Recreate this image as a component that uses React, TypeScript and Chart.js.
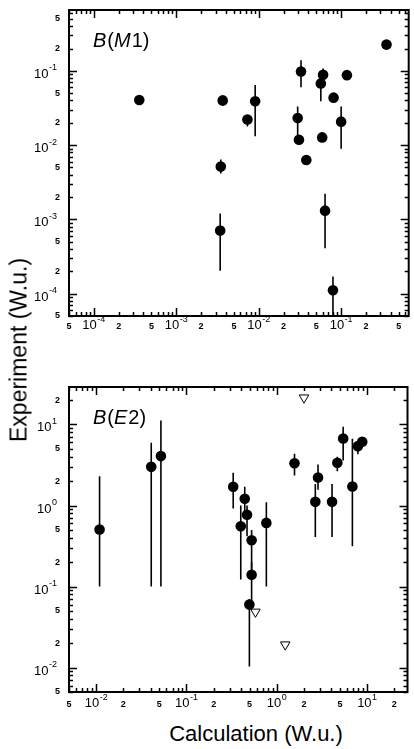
import React, { useEffect, useRef } from "react";
import { Chart, registerables } from "chart.js";

Chart.register(...registerables);

const FONT = '"Liberation Sans", Arial, Helvetica, sans-serif';

// ---- B(M1) panel data ----
const m1Calc = [3.56e-4, 3.66e-3, 7.3e-3, 9.06e-3, 0.0326, 0.0604, 0.0567, 0.1175, 0.081, 0.0297, 0.0308, 0.0589, 0.1, 0.0378, 0.355, 3.47e-3, 3.41e-3, 0.0638, 0.0796];
const m1Exp = [0.0406, 0.040, 0.0221, 0.0389, 0.098, 0.0884, 0.0678, 0.0876, 0.0436, 0.0231, 0.0118, 0.0127, 0.0207, 0.0063, 0.2256, 5.14e-3, 7.06e-4, 1.31e-3, 1.11e-4];
const m1Low = [0.0406, 0.034, 0.0178, 0.0132, 0.060, 0.084, 0.039, 0.0876, 0.0436, 0.0135, 0.0102, 0.0127, 0.00895, 0.0063, 0.2256, 4.14e-3, 2.03e-4, 4.09e-4, 4e-5];
const m1High = [0.0406, 0.042, 0.0235, 0.0644, 0.139, 0.1076, 0.072, 0.0876, 0.0436, 0.033, 0.0125, 0.0127, 0.033, 0.0063, 0.2256, 6.4e-3, 1.2e-3, 2.21e-3, 1.7e-4];

// ---- B(E2) panel data ----
const e2Calc = [0.0109, 0.0407, 0.0521, 0.329, 0.399, 0.4415, 0.468, 0.526, 0.526, 0.497, 0.766, 1.57, 2.67, 2.86, 4.09, 4.68, 5.43, 6.87, 7.9, 8.83];
const e2Exp = [0.506, 3.0, 4.07, 1.70, 0.556, 1.21, 0.768, 0.373, 0.14, 0.06, 0.61, 3.33, 1.11, 2.22, 1.11, 3.36, 6.72, 1.72, 5.4, 6.11];
const e2Low = [0.1, 0.1, 0.1, 0.92, 0.122, 0.85, 0.418, 0.14, 0.06, 0.0103, 0.1, 2.35, 0.41, 1.57, 0.41, 2.65, 3.6, 0.315, 4.3, 5.6];
const e2High = [2.3, 5.95, 11.2, 2.54, 1.0, 1.70, 1.0, 0.5, 0.2, 0.07, 1.1, 4.35, 1.84, 3.2, 1.84, 4.0, 9.36, 6.66, 5.8, 6.6];
// upper limits (open triangles)
const e2LimCalc = [0.58, 1.24, 2.0];
const e2LimExp = [0.0487, 0.0192, 21.4];

// ---- axes ----
const labelMantissas = [1, 2, 5];
const m1Range = { xMin: 5e-5, xMax: 0.66, yMin: 5e-5, yMax: 0.66 };
const e2Range = { xMin: 5e-3, xMax: 28, yMin: 5e-3, yMax: 29 };

type PanelCfg = {
  calc: number[];
  exp: number[];
  low: number[];
  high: number[];
  limCalc: number[];
  limExp: number[];
  range: { xMin: number; xMax: number; yMin: number; yMax: number };
  height: number;
  padding: { left: number; right: number; top: number; bottom: number };
  xLabelGap: number;
  name: [string, string];
};

function logTicks(min: number, max: number) {
  const out: { v: number; m: number; e: number }[] = [];
  const d0 = Math.floor(Math.log10(min));
  const d1 = Math.floor(Math.log10(max));
  for (let e = d0; e <= d1; e++) {
    for (let m = 1; m <= 9; m++) {
      const v = m * Math.pow(10, e);
      if (v >= min * 0.999 && v <= max * 1.001) out.push({ v, m, e });
    }
  }
  return out;
}

function drawPow(ctx: CanvasRenderingContext2D, e: number, x: number, y: number, align: "center" | "right") {
  const es = e < 0 ? "-" + Math.abs(e) : String(e);
  ctx.font = `13px ${FONT}`;
  const w1 = ctx.measureText("10").width;
  ctx.font = `9px ${FONT}`;
  const w2 = ctx.measureText(es).width;
  const total = w1 + w2 + 0.5;
  const sx = align === "center" ? x - total / 2 : x - total;
  ctx.textAlign = "left";
  ctx.textBaseline = "alphabetic";
  ctx.font = `13px ${FONT}`;
  ctx.fillText("10", sx, y);
  ctx.font = `9px ${FONT}`;
  ctx.fillText(es, sx + w1 + 0.5, y - 7.5);
}

function makePlugin(cfg: PanelCfg) {
  return {
    id: "frame",
    beforeDatasetsDraw(chart: any) {
      const ctx: CanvasRenderingContext2D = chart.ctx;
      const a = chart.chartArea;
      const xs = chart.scales.x;
      const ys = chart.scales.y;
      ctx.save();
      ctx.beginPath();
      ctx.rect(a.left, a.top, a.right - a.left, a.bottom - a.top);
      ctx.clip();
      ctx.strokeStyle = "#000";
      ctx.lineWidth = 1.6;
      for (let i = 0; i < cfg.calc.length; i++) {
        if (cfg.low[i] === cfg.high[i]) continue;
        const x = xs.getPixelForValue(cfg.calc[i]);
        ctx.beginPath();
        ctx.moveTo(x, ys.getPixelForValue(cfg.high[i]));
        ctx.lineTo(x, ys.getPixelForValue(cfg.low[i]));
        ctx.stroke();
      }
      ctx.restore();
    },
    afterDatasetsDraw(chart: any) {
      const ctx: CanvasRenderingContext2D = chart.ctx;
      const a = chart.chartArea;
      const xs = chart.scales.x;
      const ys = chart.scales.y;
      const r = cfg.range;
      ctx.save();
      ctx.strokeStyle = "#000";
      ctx.fillStyle = "#000";
      // ticks
      ctx.lineWidth = 1.5;
      const xt = logTicks(r.xMin, r.xMax);
      const yt = logTicks(r.yMin, r.yMax);
      for (const t of xt) {
        const x = Math.round(xs.getPixelForValue(t.v)) + 0.5;
        const len = t.m === 1 ? 8 : 4;
        ctx.beginPath();
        ctx.moveTo(x, a.bottom);
        ctx.lineTo(x, a.bottom - len);
        ctx.moveTo(x, a.top);
        ctx.lineTo(x, a.top + len);
        ctx.stroke();
      }
      for (const t of yt) {
        const y = Math.round(ys.getPixelForValue(t.v)) + 0.5;
        const len = t.m === 1 ? 8 : 4;
        ctx.beginPath();
        ctx.moveTo(a.left, y);
        ctx.lineTo(a.left + len, y);
        ctx.moveTo(a.right, y);
        ctx.lineTo(a.right - len, y);
        ctx.stroke();
      }
      // frame
      ctx.lineWidth = 2;
      ctx.strokeRect(a.left, a.top, a.right - a.left, a.bottom - a.top);
      // x labels
      const xb = a.bottom + cfg.xLabelGap;
      for (const t of xt) {
        if (!labelMantissas.includes(t.m)) continue;
        const x = xs.getPixelForValue(t.v);
        if (t.m === 1) {
          drawPow(ctx, t.e, x, xb, "center");
        } else {
          ctx.font = `bold 9px ${FONT}`;
          ctx.textAlign = "center";
          ctx.textBaseline = "alphabetic";
          ctx.fillText(String(t.m), x, xb);
        }
      }
      // y labels
      for (const t of yt) {
        if (!labelMantissas.includes(t.m)) continue;
        const y = ys.getPixelForValue(t.v);
        if (t.m === 1) {
          drawPow(ctx, t.e, a.left - 12, y + 7, "right");
        } else {
          ctx.font = `bold 9px ${FONT}`;
          ctx.textAlign = "right";
          ctx.textBaseline = "middle";
          ctx.fillText(String(t.m), a.left - 9, y);
        }
      }
      // panel name, e.g. B(M1)
      const px = a.left + 24;
      const py = a.top + 37;
      ctx.textAlign = "left";
      ctx.textBaseline = "alphabetic";
      const parts: [string, boolean][] = [
        ["B", true],
        ["(", false],
        [cfg.name[0], true],
        [cfg.name[1] + ")", false],
      ];
      let cx = px;
      for (const [s, it] of parts) {
        ctx.font = `${it ? "italic " : ""}20px ${FONT}`;
        ctx.fillText(s, cx, py);
        cx += ctx.measureText(s).width + (it ? 1 : 0);
      }
      ctx.restore();
    },
  };
}

function Panel({ cfg, top }: { cfg: PanelCfg; top: number }) {
  const ref = useRef<HTMLCanvasElement>(null);
  useEffect(() => {
    const canvas = ref.current!;
    const r = cfg.range;
    const chart = new Chart(canvas, {
      type: "scatter",
      data: {
        datasets: [
          {
            data: cfg.calc.map((c, i) => ({ x: c, y: cfg.exp[i] })),
            pointRadius: 5.3,
            pointStyle: "circle",
            backgroundColor: "#000",
            borderColor: "#000",
            borderWidth: 0,
          },
          {
            data: cfg.limCalc.map((c, i) => ({ x: c, y: cfg.limExp[i] })),
            pointRadius: 5.5,
            pointStyle: "triangle",
            rotation: 180,
            backgroundColor: "#fff",
            borderColor: "#000",
            borderWidth: 1,
          },
        ],
      },
      options: {
        responsive: false,
        animation: false,
        events: [],
        layout: { padding: cfg.padding },
        plugins: { legend: { display: false }, tooltip: { enabled: false } },
        scales: {
          x: { type: "logarithmic", min: r.xMin, max: r.xMax, display: false },
          y: { type: "logarithmic", min: r.yMin, max: r.yMax, display: false },
        },
      },
      plugins: [makePlugin(cfg)],
    } as any);
    return () => chart.destroy();
  }, []);
  return (
    <canvas
      ref={ref}
      width={414}
      height={cfg.height}
      style={{ position: "absolute", left: 0, top, width: 414, height: cfg.height }}
    />
  );
}

const topCfg: PanelCfg = {
  calc: m1Calc,
  exp: m1Exp,
  low: m1Low,
  high: m1High,
  limCalc: [],
  limExp: [],
  range: m1Range,
  height: 340,
  padding: { left: 69, right: 1, top: 10, bottom: 24 },
  xLabelGap: 13,
  name: ["M", "1"],
};

const bottomCfg: PanelCfg = {
  calc: e2Calc,
  exp: e2Exp,
  low: e2Low,
  high: e2High,
  limCalc: e2LimCalc,
  limExp: e2LimExp,
  range: e2Range,
  height: 370,
  padding: { left: 69, right: 1, top: 37, bottom: 28 },
  xLabelGap: 15,
  name: ["E", "2"],
};

export default function App() {
  return (
    <div
      style={{
        position: "fixed",
        left: 0,
        top: 0,
        width: 414,
        height: 749,
        background: "#fff",
        overflow: "hidden",
        fontFamily: FONT,
        color: "#000",
      }}
    >
      <Panel cfg={topCfg} top={0} />
      <Panel cfg={bottomCfg} top={350} />
      <div
        style={{
          position: "absolute",
          left: 19,
          top: 350,
          transform: "translate(-50%, -50%) rotate(-90deg)",
          whiteSpace: "nowrap",
          fontSize: 23,
          lineHeight: "23px",
        }}
      >
        Experiment (W.u.)
      </div>
      <div
        style={{
          position: "absolute",
          left: 256,
          top: 734,
          transform: "translate(-50%, -50%)",
          whiteSpace: "nowrap",
          fontSize: 22,
          lineHeight: "22px",
        }}
      >
        Calculation (W.u.)
      </div>
    </div>
  );
}
